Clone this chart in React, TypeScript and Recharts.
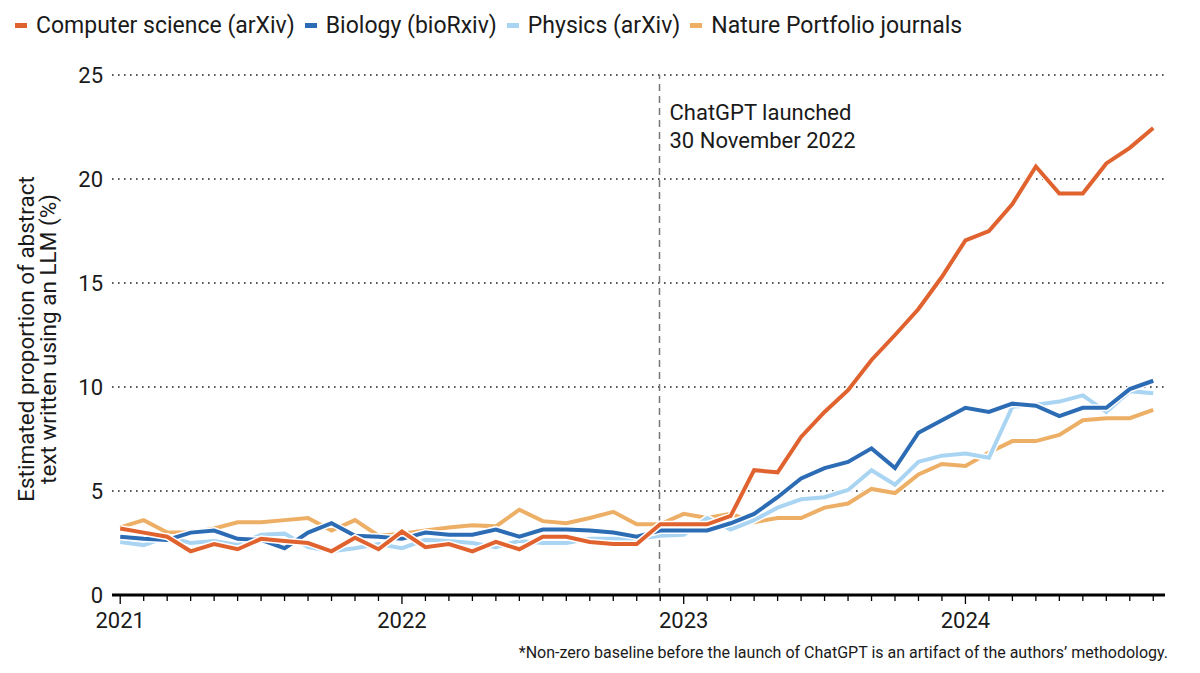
import React from "react";
import {
  LineChart,
  Line,
  XAxis,
  YAxis,
  CartesianGrid,
  ReferenceLine,
} from "recharts";

// monthly values, Jan 2021 .. Sep 2024
const years = ["2021", "2022", "2023", "2024"];

const computerScience = [
  3.2, 3.0, 2.8, 2.1, 2.45, 2.2, 2.7, 2.6, 2.5, 2.1, 2.75, 2.2,
  3.05, 2.3, 2.45, 2.1, 2.55, 2.2, 2.8, 2.8, 2.55, 2.45, 2.45, 3.4,
  3.4, 3.4, 3.8, 6.0, 5.9, 7.6, 8.8, 9.85, 11.3, 12.5, 13.75, 15.3,
  17.05, 17.5, 18.8, 20.6, 19.3, 19.3, 20.75, 21.5, 22.45,
];

const biology = [
  2.8, 2.7, 2.65, 3.0, 3.1, 2.7, 2.65, 2.25, 3.0, 3.45, 2.85, 2.8,
  2.7, 3.0, 2.9, 2.9, 3.15, 2.8, 3.15, 3.15, 3.1, 3.0, 2.8, 3.1,
  3.1, 3.1, 3.45, 3.9, 4.7, 5.6, 6.1, 6.4, 7.05, 6.1, 7.8, 8.4,
  9.0, 8.8, 9.2, 9.1, 8.6, 9.0, 9.0, 9.9, 10.3,
];

const physics = [
  2.55, 2.4, 2.8, 2.5, 2.6, 2.4, 2.9, 2.95, 2.3, 2.1, 2.25, 2.45,
  2.25, 2.65, 2.6, 2.5, 2.3, 2.6, 2.5, 2.5, 2.7, 2.7, 2.7, 2.85,
  2.9, 3.7, 3.15, 3.6, 4.2, 4.6, 4.7, 5.05, 6.0, 5.3, 6.4, 6.7,
  6.8, 6.6, 9.05, 9.15, 9.3, 9.6, 8.8, 9.8, 9.7,
];

const nature = [
  3.25, 3.6, 3.0, 3.0, 3.2, 3.5, 3.5, 3.6, 3.7, 3.1, 3.6, 2.85,
  2.95, 3.1, 3.25, 3.35, 3.3, 4.1, 3.55, 3.45, 3.7, 4.0, 3.4, 3.4,
  3.9, 3.7, 3.9, 3.5, 3.7, 3.7, 4.2, 4.4, 5.1, 4.9, 5.8, 6.3,
  6.2, 6.85, 7.4, 7.4, 7.7, 8.4, 8.5, 8.5, 8.9,
];

const yTicks = [0, 5, 10, 15, 20, 25];

const series = [
  { key: "nat", name: "Nature Portfolio journals", color: "#edaf66" },
  { key: "phys", name: "Physics (arXiv)", color: "#a9d5f3" },
  { key: "bio", name: "Biology (bioRxiv)", color: "#2c6cb4" },
  { key: "cs", name: "Computer science (arXiv)", color: "#e0622e" },
];
const legendOrder = ["cs", "bio", "phys", "nat"];

const data = computerScience.map((v, i) => ({
  t: i,
  cs: v,
  bio: biology[i],
  phys: physics[i],
  nat: nature[i],
}));
const monthTicks = data.map((d) => d.t);

const FONT = "Roboto, 'Noto Sans', sans-serif";
const INK = "#1a1a1a";

const ChatGPTLabel = (props: any) => {
  const vb = props.viewBox || { x: 0, y: 0 };
  return (
    <g fontFamily={FONT} fontSize={22} fill={INK}>
      <text x={vb.x + 10} y={vb.y + 45}>ChatGPT launched</text>
      <text x={vb.x + 10} y={vb.y + 73}>30 November 2022</text>
    </g>
  );
};

const MonthTick = (props: any) => {
  const { x, y, payload } = props;
  const isYear = payload.value % 12 === 0;
  return (
    <g>
      <line
        x1={x}
        x2={x}
        y1={y + 1}
        y2={y + (isYear ? 9 : 6)}
        stroke="#000"
        strokeWidth={1.3}
      />
      {isYear && (
        <text
          x={x}
          y={y + 33}
          textAnchor="middle"
          fontFamily={FONT}
          fontSize={22}
          fill={INK}
        >
          {years[payload.value / 12]}
        </text>
      )}
    </g>
  );
};

const App: React.FC = () => {
  return (
    <div
      style={{
        position: "absolute",
        left: 0,
        top: 0,
        width: 1200,
        height: 673,
        background: "#fff",
        fontFamily: FONT,
        color: INK,
      }}
    >
      {/* Legend */}
      <div
        style={{
          position: "absolute",
          left: 15,
          top: 12,
          display: "flex",
          alignItems: "center",
          fontSize: 23,
          whiteSpace: "nowrap",
        }}
      >
        {legendOrder.map((k) => {
          const s = series.find((x) => x.key === k)!;
          return (
            <div
              key={k}
              style={{ display: "flex", alignItems: "center", marginRight: 10 }}
            >
              <span
                style={{
                  display: "inline-block",
                  width: 12,
                  height: 5,
                  background: s.color,
                  marginRight: 9,
                }}
              />
              <span>{s.name}</span>
            </div>
          );
        })}
      </div>

      <LineChart
        width={1200}
        height={673}
        data={data}
        margin={{ top: 75, right: 35, bottom: 0, left: 0 }}
      >
        <CartesianGrid
          horizontal={true}
          vertical={false}
          stroke="#222"
          strokeWidth={1.6}
          strokeDasharray="1.6 4.4"
          horizontalValues={[5, 10, 15, 20, 25]}
        />
        <XAxis
          dataKey="t"
          type="number"
          domain={[-0.35, 44.5]}
          ticks={monthTicks}
          interval={0}
          height={78}
          axisLine={{ stroke: "#000", strokeWidth: 3 }}
          tickLine={false}
          tickSize={0}
          tickMargin={0}
          tick={<MonthTick />}
        />
        <YAxis
          type="number"
          domain={[0, 25]}
          ticks={yTicks}
          width={112}
          axisLine={false}
          tickLine={false}
          tickSize={0}
          tickMargin={9}
          tick={{ fill: INK, fontSize: 22, fontFamily: FONT }}
          label={{
            content: () => (
              <g fontFamily={FONT} fontSize={22.5} fill={INK}>
                <text
                  x={34}
                  y={339}
                  textAnchor="middle"
                  transform="rotate(-90 34 339)"
                >
                  Estimated proportion of abstract
                </text>
                <text
                  x={56}
                  y={339}
                  textAnchor="middle"
                  transform="rotate(-90 56 339)"
                >
                  text written using an LLM (%)
                </text>
              </g>
            ),
          }}
        />
        <ReferenceLine
          x={22.97}
          stroke="#777"
          strokeWidth={1.5}
          strokeDasharray="7 5"
          label={<ChatGPTLabel />}
        />
        {series.map((s) => [
          <Line
            key={s.key + "-halo"}
            dataKey={s.key}
            stroke="#fff"
            strokeWidth={7}
            dot={false}
            activeDot={false}
            isAnimationActive={false}
            strokeLinejoin="miter"
            legendType="none"
          />,
          <Line
            key={s.key}
            dataKey={s.key}
            name={s.name}
            stroke={s.color}
            strokeWidth={4}
            dot={false}
            activeDot={false}
            isAnimationActive={false}
            strokeLinejoin="miter"
          />,
        ])}
      </LineChart>

      <div
        style={{
          position: "absolute",
          right: 32,
          top: 643,
          fontSize: 16,
          whiteSpace: "nowrap",
        }}
      >
        *Non-zero baseline before the launch of ChatGPT is an artifact of the
        authors’ methodology.
      </div>
    </div>
  );
};

export default App;
